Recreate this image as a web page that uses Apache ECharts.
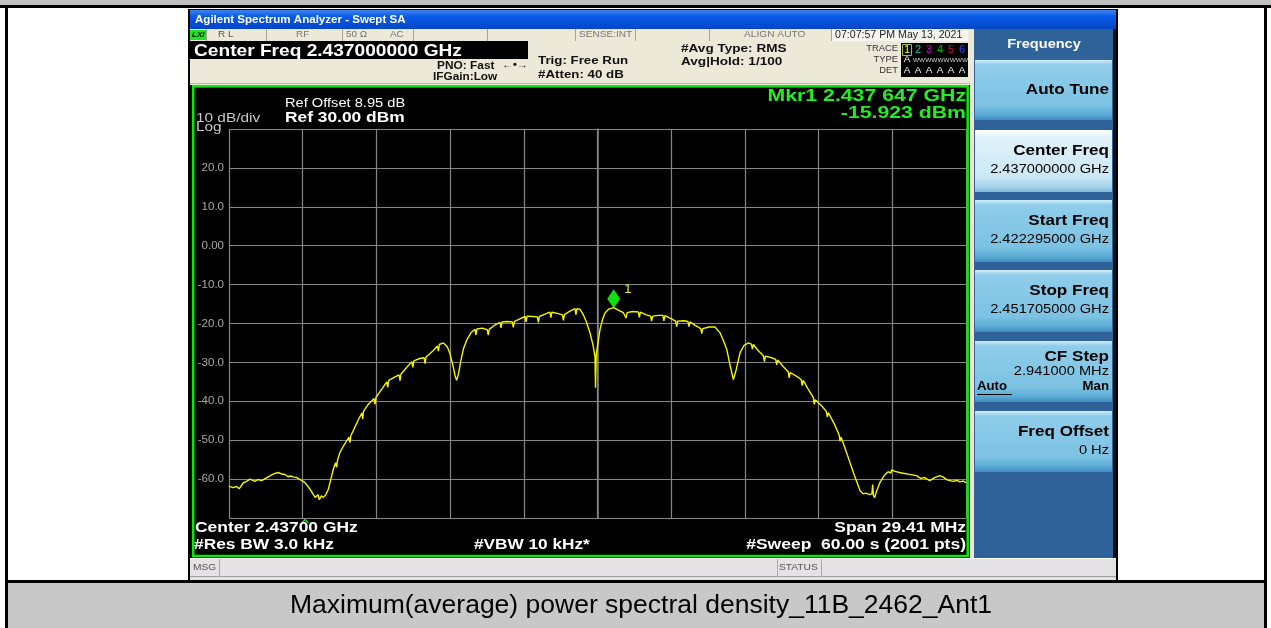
<!DOCTYPE html>
<html>
<head>
<meta charset="utf-8">
<script src="https://cdn.jsdelivr.net/npm/echarts@6/dist/echarts.min.js"></script>
<style>
  html, body { margin: 0; padding: 0; background: #ffffff; }
  #chart { width: 1271px; height: 628px; }
</style>
</head>
<body>
<div id="chart"></div>
<script>
// ---- Measurement setup ----
const centerMHz = 2437.0;
const spanMHz = 29.41;
const divMHz = spanMHz / 10;
const refLevelDbm = 30;
const dbPerDiv = 10;

// Level axis tick labels (graticule rows)
const levelTicks = [20, 10, 0, -10, -20, -30, -40, -50, -60];
const levelTickLabels = ['20.0', '10.0', '0.00', '-10.0', '-20.0', '-30.0', '-40.0', '-50.0', '-60.0'];

// Trace 1: [offset from center (MHz), level (dBm)]
const tracePoints = [
  [-14.705,-61.8],[-14.55,-62.2],[-14.40,-61.9],[-14.30,-62.5],[-14.14,-61.0],[-14.00,-60.6],
  [-13.87,-60.0],[-13.67,-60.6],[-13.55,-60.1],[-13.40,-60.4],[-13.25,-59.8],[-13.07,-59.2],
  [-12.90,-58.6],[-12.74,-58.3],[-12.60,-58.7],[-12.47,-58.8],[-12.35,-59.4],[-12.27,-59.2],
  [-12.10,-59.5],[-12.00,-59.6],[-11.85,-60.2],[-11.67,-60.9],[-11.47,-62.6],[-11.27,-64.7],
  [-11.20,-65.2],[-11.15,-64.0],[-11.10,-65.3],[-11.02,-64.3],[-10.94,-64.7],[-10.84,-64.0],
  [-10.74,-62.6],[-10.64,-60.0],[-10.54,-57.4],[-10.45,-55.8],[-10.41,-57.0],[-10.37,-55.0],
  [-10.28,-53.2],[-10.14,-51.5],[-10.01,-50.2],[-9.92,-49.2],[-9.88,-50.6],[-9.84,-48.8],
  [-9.75,-47.6],[-9.55,-44.8],[-9.40,-43.0],[-9.37,-44.5],[-9.34,-42.6],[-9.15,-40.8],
  [-8.92,-39.3],[-8.88,-40.8],[-8.84,-39.0],[-8.60,-36.8],[-8.41,-35.0],[-8.37,-36.4],
  [-8.33,-34.6],[-8.10,-33.8],[-7.92,-33.2],[-7.88,-34.7],[-7.84,-33.0],[-7.60,-31.2],
  [-7.41,-29.8],[-7.37,-31.3],[-7.33,-29.6],[-7.10,-29.0],[-6.92,-28.8],[-6.88,-30.3],
  [-6.84,-28.6],[-6.56,-27.0],[-6.39,-25.8],[-6.35,-27.1],[-6.31,-25.4],[-6.15,-25.0],
  [-6.00,-25.9],[-5.90,-27.5],[-5.78,-30.5],[-5.68,-33.5],[-5.62,-34.6],[-5.55,-33.0],
  [-5.45,-29.5],[-5.35,-26.5],[-5.20,-24.0],[-5.05,-22.4],[-4.89,-21.5],[-4.85,-22.9],
  [-4.81,-21.4],[-4.60,-21.2],[-4.40,-21.6],[-4.36,-23.0],[-4.32,-21.5],[-4.10,-20.4],
  [-3.89,-19.7],[-3.85,-21.1],[-3.81,-19.6],[-3.60,-19.5],[-3.40,-19.6],[-3.36,-21.0],
  [-3.32,-19.5],[-3.10,-18.8],[-2.89,-18.2],[-2.85,-19.6],[-2.81,-18.1],[-2.60,-18.2],
  [-2.40,-18.3],[-2.36,-19.7],[-2.32,-18.2],[-2.10,-17.6],[-1.90,-17.1],[-1.86,-18.5],
  [-1.82,-17.1],[-1.60,-17.4],[-1.40,-17.8],[-1.36,-19.2],[-1.32,-17.7],[-1.10,-16.8],
  [-0.90,-16.2],[-0.86,-17.7],[-0.82,-16.2],[-0.70,-16.3],[-0.57,-17.7],[-0.45,-19.5],
  [-0.30,-22.4],[-0.18,-25.5],[-0.10,-28.5],[-0.08,-36.5],[-0.05,-28.0],[0.02,-25.0],
  [0.10,-21.5],[0.20,-19.0],[0.30,-17.3],[0.45,-16.3],[0.647,-15.923],[0.85,-16.6],
  [1.03,-17.2],[1.10,-17.3],[1.14,-18.6],[1.18,-17.2],[1.40,-16.9],[1.63,-17.0],
  [1.67,-18.4],[1.71,-17.1],[1.95,-17.8],[2.12,-18.1],[2.16,-19.4],[2.20,-18.1],
  [2.45,-17.9],[2.61,-17.9],[2.65,-19.3],[2.69,-18.0],[2.95,-18.8],[3.12,-19.4],
  [3.16,-20.8],[3.20,-19.4],[3.45,-19.3],[3.61,-19.5],[3.65,-20.8],[3.69,-19.6],
  [3.90,-20.5],[4.12,-21.3],[4.16,-22.6],[4.20,-21.3],[4.45,-20.9],[4.69,-20.9],
  [4.89,-22.4],[5.03,-24.5],[5.16,-26.7],[5.30,-31.0],[5.42,-34.4],[5.53,-32.0],
  [5.69,-27.5],[5.85,-25.6],[6.02,-25.0],[6.14,-25.3],[6.18,-26.6],[6.22,-25.4],
  [6.42,-27.0],[6.62,-28.3],[6.66,-29.8],[6.70,-28.4],[6.95,-28.8],[7.11,-29.2],
  [7.15,-30.6],[7.19,-29.4],[7.40,-31.0],[7.61,-32.4],[7.65,-34.0],[7.69,-32.6],
  [7.95,-33.6],[8.13,-34.4],[8.17,-36.0],[8.21,-34.6],[8.40,-36.8],[8.61,-39.0],
  [8.65,-40.8],[8.69,-39.6],[8.95,-41.2],[9.13,-42.6],[9.17,-44.0],[9.21,-42.9],
  [9.45,-45.8],[9.64,-48.6],[9.68,-50.3],[9.72,-49.2],[9.94,-53.2],[10.21,-58.3],
  [10.48,-63.0],[10.60,-63.8],[10.71,-63.6],[10.85,-64.0],[10.95,-63.8],[10.98,-61.4],
  [11.01,-64.2],[11.06,-64.8],[11.11,-63.6],[11.27,-60.9],[11.45,-59.0],[11.60,-58.1],
  [11.70,-58.5],[11.74,-57.6],[11.87,-58.0],[12.05,-58.3],[12.20,-58.5],[12.45,-58.8],
  [12.73,-59.1],[12.90,-59.8],[13.05,-59.6],[13.26,-60.4],[13.45,-59.6],[13.66,-59.1],
  [13.80,-59.5],[13.95,-60.2],[14.19,-60.6],[14.35,-60.3],[14.46,-60.7],[14.60,-60.5],
  [14.705,-60.9]
];

// Marker 1 readout
const marker1FreqGHz = 2.437647;
const marker1LevelDbm = -15.923;
// Position of the small reference caret under the graticule (offset MHz)
const caretOffsetMHz = -11.67;

// Frequency softkey menu
const softKeyTitles = ['Auto Tune', 'Center Freq', 'Start Freq', 'Stop Freq', 'CF Step', 'Freq Offset'];
const softKeyValues = ['', '2.437000000 GHz', '2.422295000 GHz', '2.451705000 GHz', '2.941000 MHz', '0 Hz'];

// ---- Drawing helpers for the instrument frame ----
const SANS = '"Liberation Sans", Arial, sans-serif';
const LG = echarts.graphic.LinearGradient;
// The instrument display is wider than tall, so its lettering is stretched sideways
const SX = 1.22;

function rect(x, y, w, h, fill, z, extra) {
  return { type: 'rect', z: z == null ? -10 : z, silent: true,
    shape: { x: x, y: y, width: w, height: h },
    style: Object.assign({ fill: fill }, extra || {}) };
}
function line(x1, y1, x2, y2, stroke, lw, z) {
  return { type: 'line', z: z == null ? -9 : z, silent: true,
    shape: { x1: x1, y1: y1, x2: x2, y2: y2 },
    style: { stroke: stroke, lineWidth: lw || 1 } };
}
function txt(x, y, text, font, fill, align, sx, z) {
  return { type: 'text', z: z == null ? 20 : z, silent: true, x: x, y: y,
    scaleX: sx == null ? 1 : sx,
    style: { text: text, font: font, fill: fill, align: align || 'left', verticalAlign: 'middle' } };
}

const els = [];

// Page / table frame
els.push(rect(0, 0, 1271, 6, '#c0c0c0', -20));
els.push(rect(0, 5, 1271, 3, '#000000', -19));
els.push(rect(5, 5, 3, 623, '#000000', -19));
els.push(rect(1264, 5, 3, 623, '#000000', -19));
els.push(rect(5, 580, 1262, 3, '#000000', -19));
els.push(rect(8, 583, 1256, 45, '#c8c8c8', -19));
els.push(txt(641, 606, 'Maximum(average) power spectral density_11B_2462_Ant1', '26.5px ' + SANS, '#000000', 'center'));

// Instrument window
els.push(rect(188, 9, 930, 572, '#000000', -18));
els.push(rect(190, 10, 926, 19, new LG(0, 0, 0, 1, [
  { offset: 0, color: '#3a86f0' }, { offset: 0.35, color: '#0a5ae6' }, { offset: 1, color: '#0245c6' }]), -17));
els.push(txt(195, 20, 'Agilent Spectrum Analyzer - Swept SA', 'bold 11px ' + SANS, '#ffffff', 'left', 1.05));

// Status row
els.push(rect(190, 29, 780, 12, '#ece9d8', -17));
els.push(rect(190, 30, 16, 10, '#22e022', -16));
els.push(txt(192, 35, 'LXI', 'italic bold 8px ' + SANS, '#000000'));
[206, 266, 342, 413, 487, 575, 635, 709, 831].forEach(function (x) {
  els.push(line(x + 0.5, 29, x + 0.5, 41, '#a8a496', 1, -15));
});
els.push(rect(831, 30, 137, 11, '#f7f6f0', -16));
els.push(txt(218, 35, 'R L', '9px ' + SANS, '#555555', 'left', 1.1));
els.push(txt(296, 35, 'RF', '9px ' + SANS, '#777777', 'left', 1.1));
els.push(txt(346, 35, '50 \u03A9', '9px ' + SANS, '#777777', 'left', 1.1));
els.push(txt(390, 35, 'AC', '9px ' + SANS, '#777777', 'left', 1.1));
els.push(txt(579, 35, 'SENSE:INT', '9px ' + SANS, '#777777', 'left', 1.12));
els.push(txt(744, 35, 'ALIGN AUTO', '9px ' + SANS, '#777777', 'left', 1.13));
els.push(txt(835, 35, '07:07:57 PM May 13, 2021', '10px ' + SANS, '#222222', 'left', 1.06));

// Header settings panel
els.push(rect(190, 41, 780, 44, '#ece9d8', -17));
els.push(rect(190, 41, 338, 18, '#000000', -16));
els.push(line(190, 83.5, 970, 83.5, '#bdb9a8', 1, -15));
els.push(txt(194, 51, 'Center Freq ' + (centerMHz / 1000).toFixed(9) + ' GHz', 'bold 17px ' + SANS, '#ffffff', 'left', 1.125));
els.push(txt(437, 66, 'PNO: Fast', 'bold 10px ' + SANS, '#111111', 'left', 1.19));
els.push(txt(502, 65, '\u2190\u2022\u2192', 'bold 10px ' + SANS, '#111111', 'left', 1.1));
els.push(txt(433, 77, 'IFGain:Low', 'bold 10px ' + SANS, '#111111', 'left', 1.18));
els.push(txt(538, 61, 'Trig: Free Run', 'bold 11px ' + SANS, '#111111', 'left', 1.21));
els.push(txt(538, 75, '#Atten: 40 dB', 'bold 11px ' + SANS, '#111111', 'left', 1.21));
els.push(txt(681, 49, '#Avg Type: RMS', 'bold 11.5px ' + SANS, '#111111', 'left', 1.18));
els.push(txt(681, 62, 'Avg|Hold: 1/100', 'bold 11.5px ' + SANS, '#111111', 'left', 1.18));
els.push(txt(898, 49, 'TRACE', '8.5px ' + SANS, '#333333', 'right', 1.1));
els.push(txt(898, 60, 'TYPE', '8.5px ' + SANS, '#333333', 'right', 1.1));
els.push(txt(898, 71, 'DET', '8.5px ' + SANS, '#333333', 'right', 1.1));
els.push(rect(901, 43, 67, 34, '#000000', -16));
els.push(rect(902.5, 44.5, 9, 11, 'none', -15, { stroke: '#a0c040', lineWidth: 1 }));
const traceNumColors = ['#ffff00', '#00c8c8', '#d000d0', '#00c000', '#e00050', '#3040ff'];
traceNumColors.forEach(function (c, i) {
  els.push(txt(907 + i * 11, 50, String(i + 1), '10px ' + SANS, c, 'center', 1.1));
  els.push(txt(907 + i * 11, 71, 'A', '9px ' + SANS, '#ffffff', 'center', 1.1));
});
els.push(txt(907, 60, 'A', '9px ' + SANS, '#ffffff', 'center', 1.1));
els.push(txt(913, 60, 'WWWWWWWWW', '6px ' + SANS, '#d0d0d0', 'left', 1.08));

// Plot area
els.push(rect(190, 85, 780, 473, '#000000', -17));
els.push(rect(193.2, 86.2, 774.5, 469.8, 'none', 15, { stroke: '#00ee00', lineWidth: 2.5 }));
els.push(txt(285, 104, 'Ref Offset 8.95 dB', '12px ' + SANS, '#ffffff', 'left', SX));
els.push(txt(285, 118, 'Ref ' + refLevelDbm.toFixed(2) + ' dBm', 'bold 14px ' + SANS, '#ffffff', 'left', 1.24));
els.push(txt(196, 119, dbPerDiv + ' dB/div', '12.5px ' + SANS, '#c8c8c8', 'left', 1.23));
els.push(txt(196, 128, 'Log', '12.5px ' + SANS, '#c8c8c8', 'left', 1.23));
const mkrDigits = marker1FreqGHz.toFixed(6);
els.push(txt(966, 96, 'Mkr1 ' + mkrDigits.slice(0, 5) + ' ' + mkrDigits.slice(5) + ' GHz',
  'bold 17px ' + SANS, '#22ee22', 'right', 1.25));
els.push(txt(966, 113, marker1LevelDbm.toFixed(3) + ' dBm', 'bold 17px ' + SANS, '#22ee22', 'right', 1.25));
els.push(txt(195, 528, 'Center ' + (centerMHz / 1000).toFixed(5) + ' GHz', 'bold 14px ' + SANS, '#ffffff', 'left', 1.245));
els.push(txt(194, 545, '#Res BW 3.0 kHz', 'bold 14px ' + SANS, '#ffffff', 'left', 1.24));
els.push(txt(474, 545, '#VBW 10 kHz*', 'bold 14px ' + SANS, '#ffffff', 'left', 1.23));
els.push(txt(966, 528, 'Span ' + spanMHz.toFixed(2) + ' MHz', 'bold 14px ' + SANS, '#ffffff', 'right', 1.245));
els.push(txt(966, 545, '#Sweep  60.00 s (2001 pts)', 'bold 14px ' + SANS, '#ffffff', 'right', 1.25));

// Message / status bar
els.push(rect(190, 558, 926, 22, '#e4e2e4', -17));
els.push(line(190, 558.5, 1116, 558.5, '#ffffff', 1, -15));
els.push(line(190, 576.5, 1116, 576.5, '#a0a0a0', 1, -15));
els.push(line(219.5, 559, 219.5, 577, '#a8a8a8', 1, -15));
els.push(line(777.5, 559, 777.5, 577, '#a8a8a8', 1, -15));
els.push(line(821.5, 559, 821.5, 577, '#a8a8a8', 1, -15));
els.push(txt(193, 568, 'MSG', '8.5px ' + SANS, '#555555', 'left', 1.2));
els.push(txt(779, 568, 'STATUS', '8.5px ' + SANS, '#555555', 'left', 1.2));

// Softkey panel
els.push(rect(970, 29, 146, 529, '#ece9d8', -17));
els.push(rect(974, 29, 140, 529, '#2f6298', -16));
els.push(rect(1113, 29, 3, 529, '#111111', -16));
els.push(txt(1044, 44, 'Frequency', 'bold 13px ' + SANS, '#ffffff', 'center', 1.12));
const keyTops = [60, 130, 200, 270, 341, 411];
const keyHeights = [60, 62, 62, 62, 61, 61];
softKeyTitles.forEach(function (title, i) {
  const y0 = keyTops[i], h = keyHeights[i];
  const active = i === 1;
  const fill = active
    ? new LG(0, 0, 0, 1, [{ offset: 0, color: '#ffffff' }, { offset: 0.12, color: '#e0f2fb' },
        { offset: 0.75, color: '#cce8f6' }, { offset: 0.92, color: '#a5d3ea' }, { offset: 1, color: '#7fb8d8' }])
    : new LG(0, 0, 0, 1, [{ offset: 0, color: '#d4eef9' }, { offset: 0.08, color: '#8fcdea' },
        { offset: 0.75, color: '#7cc2e3' }, { offset: 0.9, color: '#5eaed6' }, { offset: 1, color: '#3f8cc0' }]);
  els.push(rect(975, y0, 137, h, fill, -15));
  const val = softKeyValues[i];
  if (title === 'Auto Tune') {
    els.push(txt(1109, y0 + 30, title, 'bold 14px ' + SANS, '#000000', 'right', SX));
  } else if (title === 'CF Step') {
    els.push(txt(1109, y0 + 16, title, 'bold 14px ' + SANS, '#000000', 'right', SX));
    els.push(txt(1109, y0 + 31, val, '12px ' + SANS, '#000000', 'right', SX));
    els.push(txt(1109, y0 + 46, 'Man', 'bold 12px ' + SANS, '#000000', 'right', 1.1));
    els.push(txt(977, y0 + 46, 'Auto', 'bold 12px ' + SANS, '#000000', 'left', 1.1));
    els.push(line(977, y0 + 53.5, 1012, y0 + 53.5, '#000000', 1, 20));
  } else {
    els.push(txt(1109, y0 + 21, title, 'bold 14px ' + SANS, '#000000', 'right', SX));
    els.push(txt(1109, y0 + 40, val, '12px ' + SANS, '#000000', 'right', SX));
  }
});

// ---- Chart ----
const chart = echarts.init(document.getElementById('chart'), null, { renderer: 'canvas' });
const marker1Offset = marker1FreqGHz * 1000 - centerMHz;

chart.setOption({
  animation: false,
  backgroundColor: '#ffffff',
  graphic: { elements: els },
  grid: { left: 229, top: 129, width: 737, height: 389, containLabel: false, show: false },
  xAxis: {
    type: 'value',
    min: -spanMHz / 2, max: spanMHz / 2, interval: divMHz,
    axisLine: { show: false }, axisTick: { show: false }, axisLabel: { show: false },
    splitLine: { show: true, lineStyle: { color: '#858585', width: 1.2 } }
  },
  yAxis: {
    type: 'value',
    min: refLevelDbm - 10 * dbPerDiv, max: refLevelDbm, interval: dbPerDiv,
    axisLine: { show: true, lineStyle: { color: '#858585', width: 1.5 } },
    axisTick: { show: false },
    axisLabel: {
      margin: 5, color: '#a8a8a8', fontSize: 11.5, fontFamily: SANS,
      formatter: function (v) {
        const k = levelTicks.indexOf(v);
        return k < 0 ? '' : levelTickLabels[k];
      }
    },
    splitLine: { show: true, lineStyle: { color: '#858585', width: 1.2 } }
  },
  series: [{
    type: 'line',
    data: tracePoints,
    showSymbol: false,
    smooth: false,
    lineStyle: { color: '#f4f400', width: 1.4 },
    z: 5,
    markPoint: {
      silent: true,
      data: [{
        coord: [marker1Offset, marker1LevelDbm],
        symbol: 'diamond', symbolSize: [13, 19], symbolOffset: [0, -9],
        itemStyle: { color: '#11dd11' },
        label: { show: true, formatter: '1', position: 'right', offset: [-1, -9], color: '#f4f400', fontSize: 13, fontFamily: SANS }
      }, {
        coord: [caretOffsetMHz, refLevelDbm - 10 * dbPerDiv],
        symbol: 'path://M0,5 L5,0 L10,5 L8.6,6 L5,2.4 L1.4,6 Z', symbolSize: [8, 5], symbolOffset: [0, 3],
        itemStyle: { color: '#22dd22' },
        label: { show: false }
      }]
    }
  }]
});
</script>
</body>
</html>
